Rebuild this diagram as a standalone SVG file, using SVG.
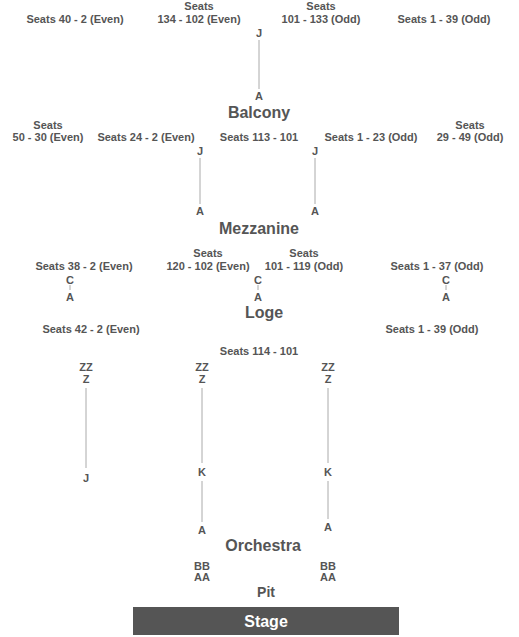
<svg xmlns="http://www.w3.org/2000/svg" width="519" height="637" viewBox="0 0 519 637">
<style>
text{font-family:"Liberation Sans",Arial,sans-serif;font-weight:bold;fill:#555;text-anchor:middle}
.s{font-size:11px}
.r{font-size:11px}
.h{font-size:16px}
.c{stroke:#aaa;stroke-width:1;fill:none}
.stage{font-size:16px;fill:#fff}
</style>
<rect width="519" height="637" fill="#fff"/>
<g id="connectors">
<line class="c" x1="259" y1="40" x2="259" y2="89"/>
<line class="c" x1="200" y1="158" x2="200" y2="204"/>
<line class="c" x1="315" y1="158" x2="315" y2="204"/>
<line class="c" x1="70" y1="285" x2="70" y2="290"/>
<line class="c" x1="258" y1="285" x2="258" y2="290"/>
<line class="c" x1="446" y1="285" x2="446" y2="290"/>
<line class="c" x1="86" y1="388" x2="86" y2="468"/>
<line class="c" x1="202" y1="388" x2="202" y2="463"/>
<line class="c" x1="202" y1="481" x2="202" y2="522"/>
<line class="c" x1="328" y1="388" x2="328" y2="463"/>
<line class="c" x1="328" y1="481" x2="328" y2="519"/>
</g>
<g id="balcony">
<text class="s" x="75" y="23">Seats 40 - 2 (Even)</text>
<text class="s" x="199" y="10">Seats</text>
<text class="s" x="199" y="23">134 - 102 (Even)</text>
<text class="s" x="321" y="10">Seats</text>
<text class="s" x="321" y="23">101 - 133 (Odd)</text>
<text class="s" x="444" y="23">Seats 1 - 39 (Odd)</text>
<text class="r" x="259" y="37">J</text>
<text class="r" x="259" y="100">A</text>
<text class="h" x="259" y="118">Balcony</text>
</g>
<g id="mezzanine">
<text class="s" x="48" y="129">Seats</text>
<text class="s" x="48" y="141">50 - 30 (Even)</text>
<text class="s" x="146" y="141">Seats 24 - 2 (Even)</text>
<text class="s" x="259" y="141">Seats 113 - 101</text>
<text class="s" x="371" y="141">Seats 1 - 23 (Odd)</text>
<text class="s" x="470" y="129">Seats</text>
<text class="s" x="470" y="141">29 - 49 (Odd)</text>
<text class="r" x="200" y="155">J</text>
<text class="r" x="200" y="215">A</text>
<text class="r" x="315" y="155">J</text>
<text class="r" x="315" y="215">A</text>
<text class="h" x="259" y="234">Mezzanine</text>
</g>
<g id="loge">
<text class="s" x="84" y="270">Seats 38 - 2 (Even)</text>
<text class="s" x="208" y="257">Seats</text>
<text class="s" x="208" y="270">120 - 102 (Even)</text>
<text class="s" x="304" y="257">Seats</text>
<text class="s" x="304" y="270">101 - 119 (Odd)</text>
<text class="s" x="437" y="270">Seats 1 - 37 (Odd)</text>
<text class="r" x="70" y="284">C</text>
<text class="r" x="70" y="301">A</text>
<text class="r" x="258" y="284">C</text>
<text class="r" x="258" y="301">A</text>
<text class="r" x="446" y="284">C</text>
<text class="r" x="446" y="301">A</text>
<text class="h" x="264" y="318">Loge</text>
</g>
<g id="orchestra">
<text class="s" x="91" y="333">Seats 42 - 2 (Even)</text>
<text class="s" x="432" y="333">Seats 1 - 39 (Odd)</text>
<text class="s" x="259" y="355">Seats 114 - 101</text>
<text class="r" x="86" y="371">ZZ</text>
<text class="r" x="86" y="383">Z</text>
<text class="r" x="86" y="482">J</text>
<text class="r" x="202" y="371">ZZ</text>
<text class="r" x="202" y="383">Z</text>
<text class="r" x="202" y="476">K</text>
<text class="r" x="202" y="534">A</text>
<text class="r" x="328" y="371">ZZ</text>
<text class="r" x="328" y="383">Z</text>
<text class="r" x="328" y="476">K</text>
<text class="r" x="328" y="531">A</text>
<text class="h" x="263" y="551">Orchestra</text>
</g>
<g id="pit">
<text class="r" x="202" y="570">BB</text>
<text class="r" x="202" y="581">AA</text>
<text class="r" x="328" y="570">BB</text>
<text class="r" x="328" y="581">AA</text>
<text class="h" x="266" y="597" style="font-size:14px">Pit</text>
</g>
<g id="stage">
<rect x="133" y="607" width="266" height="28" fill="#555"/>
<text class="stage" x="266" y="627">Stage</text>
</g>
</svg>
